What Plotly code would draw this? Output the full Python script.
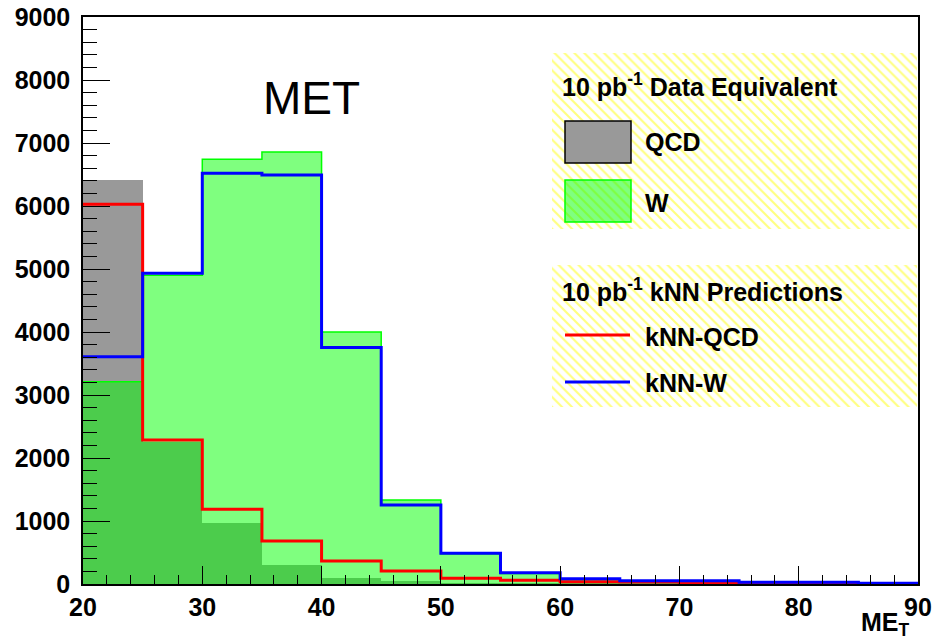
import plotly.graph_objects as go

# ---------------- data ----------------
bin_edges = [20, 25, 30, 35, 40, 45, 50, 55, 60, 65, 70, 75, 80, 85, 90]
qcd = [6413, 2260, 963, 302, 100, 40, 15, 8, 5, 3, 2, 1, 1, 0]
w = [3211, 4900, 6741, 6857, 4000, 1333, 480, 165, 70, 45, 30, 20, 12, 8]
knn_qcd = [6027, 2286, 1186, 683, 365, 206, 90, 60, 35, 30, 25, 20, 15, 5]
knn_w = [3608, 4932, 6519, 6492, 3754, 1254, 487, 179, 84, 52, 50, 27, 27, 10]

title_text = "MET"
legend_header1 = "10 pb<sup>-1</sup> Data Equivalent"
legend_header2 = "10 pb<sup>-1</sup> kNN Predictions"
legend_labels = ["QCD", "W", "kNN-QCD", "kNN-W"]
x_title = "ME<sub>T</sub>"

# ---------------- geometry ----------------
W_PX, H_PX = 942, 643
ML, MR, MT, MB = 83, 24, 17, 59
PW = W_PX - ML - MR
PH = H_PX - MT - MB


def px(x):
    return (x - ML) / PW


def py(y):
    return (H_PX - MB - y) / PH


centers = [(a + b) / 2 for a, b in zip(bin_edges[:-1], bin_edges[1:])]
widths = [b - a for a, b in zip(bin_edges[:-1], bin_edges[1:])]

FONT = "Liberation Sans, Arial, sans-serif"

fig = go.Figure()

fig.add_trace(go.Bar(x=centers, y=qcd, width=widths, name="QCD",
                     marker=dict(color="#999999", line=dict(width=0)),
                     showlegend=False))
fig.add_trace(go.Bar(x=centers, y=w, width=widths, name="W",
                     marker=dict(color="rgba(0,255,0,0.5)", line=dict(width=0)),
                     showlegend=False))


def step(vals):
    return vals + [vals[-1]]


# W outline (histogram envelope)
fig.add_trace(go.Scatter(x=bin_edges, y=step(w), mode="lines",
                         line=dict(color="#00ff00", width=1.5, shape="hv"),
                         showlegend=False, hoverinfo="skip"))
fig.add_trace(go.Scatter(x=bin_edges, y=step(knn_qcd), mode="lines",
                         line=dict(color="#ff0000", width=3, shape="hv"),
                         showlegend=False, name="kNN-QCD"))
fig.add_trace(go.Scatter(x=bin_edges, y=step(knn_w), mode="lines",
                         line=dict(color="#0000ff", width=3, shape="hv"),
                         showlegend=False, name="kNN-W"))

# hatched legend boxes (on an overlay axis in paper-like units)
boxes = [(552, 917, 53, 229), (552, 917, 265, 407)]
for x0, x1, y0, y1 in boxes:
    fig.add_trace(go.Bar(
        x=[(px(x0) + px(x1)) / 2], width=[px(x1) - px(x0)],
        base=[py(y1)], y=[py(y0) - py(y1)],
        xaxis="x2", yaxis="y2", showlegend=False, hoverinfo="skip",
        marker=dict(color="rgba(255,255,255,0)", line=dict(width=0),
                    pattern=dict(shape="\\", fgcolor="#ffff00",
                                 bgcolor="rgba(255,255,255,0)",
                                 size=7, solidity=0.3))))

shapes = [
    dict(type="rect", xref="paper", yref="paper",
         x0=px(565), x1=px(631), y0=py(163), y1=py(121),
         fillcolor="#999999", line=dict(color="black", width=1.5)),
    dict(type="rect", xref="paper", yref="paper",
         x0=px(565), x1=px(631), y0=py(222), y1=py(180),
         fillcolor="rgba(0,255,0,0.5)", line=dict(color="#00ff00", width=1.5)),
    dict(type="line", xref="paper", yref="paper",
         x0=px(565), x1=px(630), y0=py(335), y1=py(335),
         line=dict(color="#ff0000", width=3)),
    dict(type="line", xref="paper", yref="paper",
         x0=px(565), x1=px(630), y0=py(382), y1=py(382),
         line=dict(color="#0000ff", width=3)),
]

ann_font = dict(family=FONT, size=25, color="black", weight="bold")
annotations = [
    dict(text=title_text, x=px(311), y=py(98), xref="paper", yref="paper",
         showarrow=False, xanchor="center", yanchor="middle",
         font=dict(family=FONT, size=46, color="black")),
    dict(text=legend_header1, x=px(560), y=py(85), xref="paper", yref="paper",
         showarrow=False, xanchor="left", yanchor="middle", font=ann_font),
    dict(text=legend_labels[0], x=px(643), y=py(142), xref="paper", yref="paper",
         showarrow=False, xanchor="left", yanchor="middle", font=ann_font),
    dict(text=legend_labels[1], x=px(643), y=py(203), xref="paper", yref="paper",
         showarrow=False, xanchor="left", yanchor="middle", font=ann_font),
    dict(text=legend_header2, x=px(560), y=py(290), xref="paper", yref="paper",
         showarrow=False, xanchor="left", yanchor="middle", font=ann_font),
    dict(text=legend_labels[2], x=px(643), y=py(337), xref="paper", yref="paper",
         showarrow=False, xanchor="left", yanchor="middle", font=ann_font),
    dict(text=legend_labels[3], x=px(643), y=py(383), xref="paper", yref="paper",
         showarrow=False, xanchor="left", yanchor="middle", font=ann_font),
    dict(text=x_title, x=px(912), y=py(606), xref="paper", yref="paper",
         showarrow=False, xanchor="right", yanchor="top", font=ann_font),
]

tickfont = dict(family=FONT, size=25, color="black", weight="bold")

fig.update_layout(
    width=W_PX, height=H_PX,
    margin=dict(l=ML, r=MR, t=MT, b=MB, pad=0, autoexpand=False),
    paper_bgcolor="white", plot_bgcolor="white",
    barmode="overlay", bargap=0,
    showlegend=False,
    shapes=shapes, annotations=annotations,
    xaxis=dict(range=[bin_edges[0], bin_edges[-1]], dtick=10, tick0=20,
               ticks="inside", ticklen=18, tickwidth=1.2, tickcolor="black",
               minor=dict(dtick=2, ticks="inside", ticklen=9, tickwidth=1,
                          tickcolor="black"),
               showline=True, linecolor="black", linewidth=1.5, mirror=True,
               showgrid=False, zeroline=False, tickfont=tickfont,
               automargin=False, layer="above traces"),
    yaxis=dict(range=[0, 9000], dtick=1000,
               ticks="inside", ticklen=27, tickwidth=1.2, tickcolor="black",
               minor=dict(dtick=200, ticks="inside", ticklen=14, tickwidth=1,
                          tickcolor="black"),
               showline=True, linecolor="black", linewidth=1.5, mirror=True,
               showgrid=False, zeroline=False, tickfont=tickfont,
               ticklabelstandoff=6, automargin=False, layer="above traces"),
    xaxis2=dict(overlaying="x", range=[0, 1], visible=False, anchor="y2"),
    yaxis2=dict(overlaying="y", range=[0, 1], visible=False, anchor="x2"),
)

fig.write_html("out.html",
               config={"displayModeBar": False},
               post_script="document.body.style.margin='0px';"
                           "document.body.style.overflow='hidden';")
